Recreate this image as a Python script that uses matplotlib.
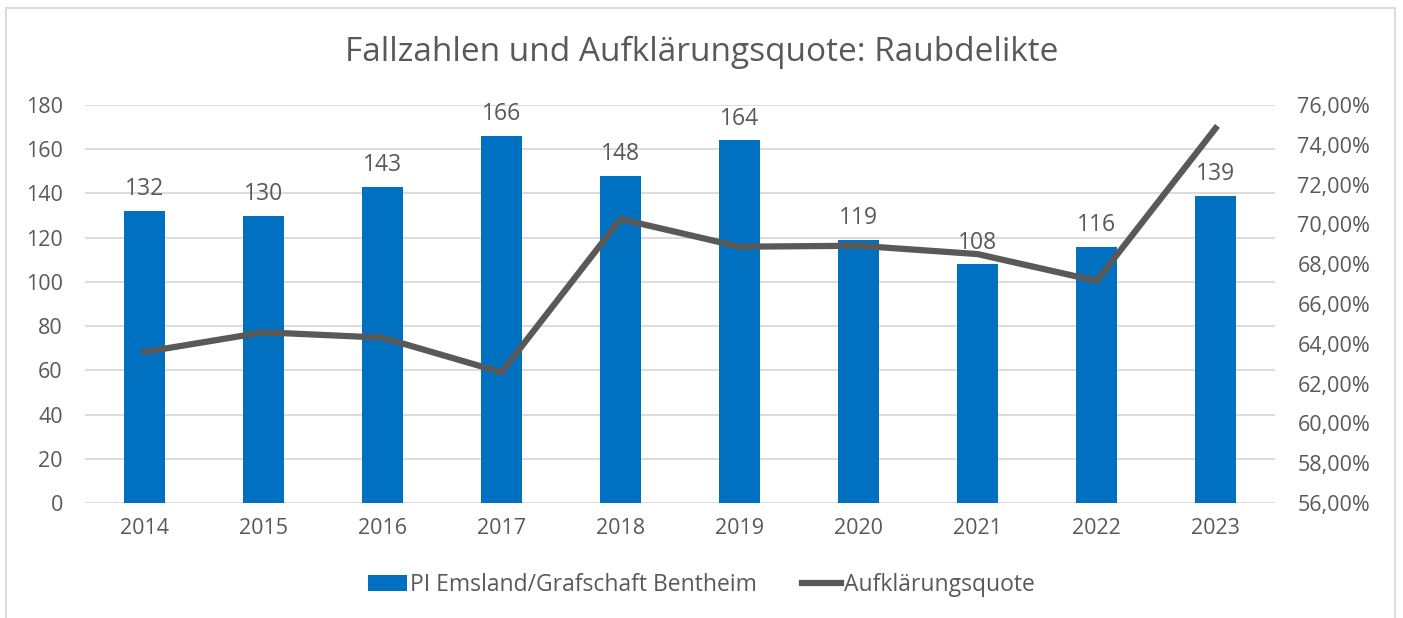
import matplotlib.pyplot as plt
from matplotlib.patches import Rectangle
from matplotlib.ticker import FuncFormatter

plt.rcParams['font.family'] = ['Open Sans', 'DejaVu Sans']

# Daten
years = ["2014", "2015", "2016", "2017", "2018", "2019", "2020", "2021", "2022", "2023"]
cases = [132, 130, 143, 166, 148, 164, 119, 108, 116, 139]
quote = [63.59, 64.58, 64.31, 62.57, 70.27, 68.88, 68.93, 68.51, 67.16, 74.83]

bar_color = "#0070C0"
line_color = "#595959"
text_color = "#595959"
grid_color = "#D9D9D9"

fig = plt.figure(figsize=(14.03, 6.18), dpi=100)
ax = fig.add_axes([0.0606, 0.1861, 0.8482, 0.6439])

x = list(range(len(years)))
bars = ax.bar(x, cases, width=0.35, color=bar_color, zorder=2,
              label="PI Emsland/Grafschaft Bentheim")
for xi, v in zip(x, cases):
    ax.annotate(str(v), (xi, v), xytext=(0, 7), textcoords="offset points",
                ha="center", va="bottom", fontsize=16.5, color=text_color)

ax.set_ylim(0, 180)
ax.set_yticks(range(0, 181, 20))
ax.set_xlim(-0.5, 9.5)
ax.set_xticks(x)
ax.set_xticklabels(years)
ax.grid(axis="y", color=grid_color, linewidth=1.3, zorder=0)
ax.set_axisbelow(True)
for s in ax.spines.values():
    s.set_visible(False)
ax.tick_params(length=0, labelsize=15.5, colors=text_color, pad=16)
ax.tick_params(axis="x", pad=11)

ax2 = ax.twinx()
ln, = ax2.plot(x, quote, color=line_color, linewidth=4.5, zorder=3,
               solid_joinstyle="miter", label="Aufklärungsquote")
ax2.set_ylim(56, 76)
ax2.set_yticks(range(56, 77, 2))
ax2.yaxis.set_major_formatter(FuncFormatter(lambda v, p: f"{v:.2f}".replace(".", ",") + "%"))
for s in ax2.spines.values():
    s.set_visible(False)
ax2.tick_params(length=0, labelsize=15.5, colors=text_color, pad=16)

fig.text(0.5, 0.915, "Fallzahlen und Aufklärungsquote: Raubdelikte",
         ha="center", va="center", fontsize=24, color=text_color)

leg = fig.legend([bars, ln], ["PI Emsland/Grafschaft Bentheim", "Aufklärungsquote"],
                 loc="center", bbox_to_anchor=(0.5, 0.053), ncol=2, frameon=False,
                 fontsize=16.5, handlelength=1.7, handletextpad=0.1, columnspacing=2.0)
for t in leg.get_texts():
    t.set_color(text_color)

# Rahmen um das Diagramm
fig.patches.append(Rectangle((6 / 1403, -0.05), 1389 / 1403, 1.05 - 8 / 618,
                             transform=fig.transFigure, fill=False,
                             edgecolor=grid_color, linewidth=1.3))

fig.savefig("out.png", dpi=100)
